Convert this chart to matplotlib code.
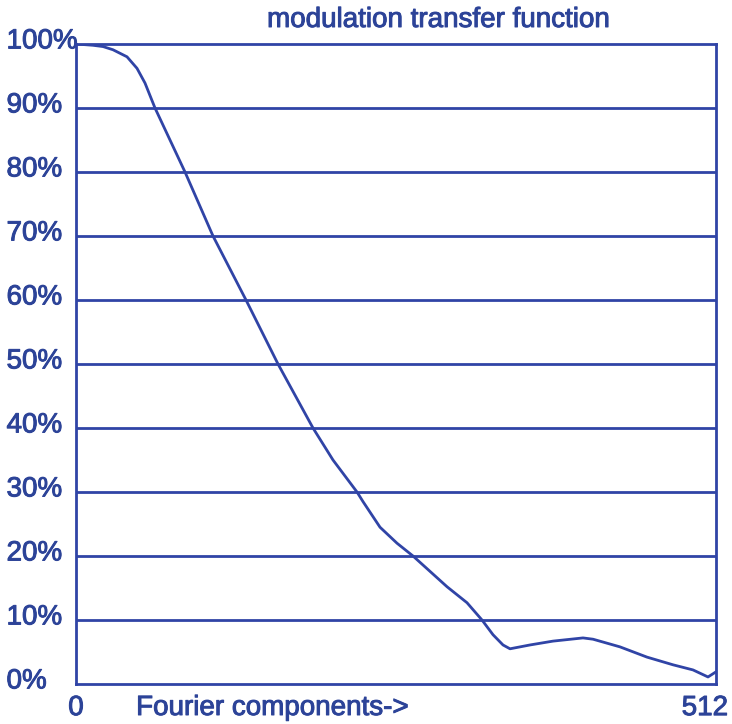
import matplotlib
matplotlib.use("Agg")
import matplotlib.pyplot as plt
import matplotlib.patheffects as pe
from matplotlib.transforms import ScaledTranslation

# curve (Fourier component, MTF in %)
components = [0, 13.6, 21.6, 29.6, 40.8, 48.8, 55.2, 63.2, 87.2, 109.6, 136,
              161.6, 189.6, 205.6, 224.8, 229.6, 243.2, 256.8, 269.6, 296.8,
              312.8, 324.8, 333.6, 341.6, 347.2, 363.2, 381.6, 405.6, 413.6,
              435.2, 456.8, 477.6, 493.6, 505.6, 512]
mtf = [100, 99.8, 99.6, 99.1, 98, 96.2, 93.9, 90, 80, 70, 60,
       50, 40, 35, 30, 28.5, 24.5, 22, 20, 15.2,
       12.7, 10, 7.7, 6.1, 5.5, 6.1, 6.7, 7.2, 7.0,
       5.8, 4.2, 3.0, 2.2, 1.1, 1.9]

y_ticks = [0, 10, 20, 30, 40, 50, 60, 70, 80, 90, 100]
y_labels = ["%d%%" % v for v in y_ticks]
x_ticks = [0, 512]
x_labels = ["0", "512"]

line_col = "#3044a6"
text_col = "#2c4398"

plt.rcParams['font.family'] = ['Liberation Sans', 'DejaVu Sans']
# scanned text in the original looks a bit heavier
heavy = [pe.withStroke(linewidth=0.7, foreground=text_col)]

fig = plt.figure(figsize=(7.32, 7.24), dpi=100)
ax = fig.add_axes([76 / 732, 40 / 724, 640 / 732, 640 / 724])

# horizontal grid lines
for v in y_ticks[1:-1]:
    ax.axhline(v, color=line_col, lw=2.0, zorder=1)

ax.plot(components, mtf, color=line_col, lw=2.0, zorder=2, solid_joinstyle='round')

ax.set_xlim(0, 512)
ax.set_ylim(0, 100)
for s in ax.spines.values():
    s.set_color(line_col)
    s.set_linewidth(2.0)

ax.set_yticks(y_ticks)
ax.set_yticklabels(y_labels, fontsize=20, color=text_col, ha='left')
ax.tick_params(axis='y', length=0, pad=50)
for lab in ax.get_yticklabels():
    lab.set_transform(lab.get_transform() + ScaledTranslation(0, 4 / 72, fig.dpi_scale_trans))
    lab.set_path_effects(heavy)

ax.set_xticks(x_ticks)
ax.set_xticklabels(x_labels, fontsize=20, color=text_col)
ax.tick_params(axis='x', length=0, pad=8)
xl = ax.get_xticklabels()
xl[1].set_transform(xl[1].get_transform() + ScaledTranslation(-8 / 72, 0, fig.dpi_scale_trans))
for lab in xl:
    lab.set_path_effects(heavy)

fig.text(272 / 732, 1 - 708 / 724, "Fourier components->", fontsize=20,
         color=text_col, ha='center', va='center', path_effects=heavy)
fig.text(438 / 732, 1 - 20 / 724, "modulation transfer function", fontsize=20,
         color=text_col, ha='center', va='center', path_effects=heavy)

fig.savefig("out.png", dpi=100)
